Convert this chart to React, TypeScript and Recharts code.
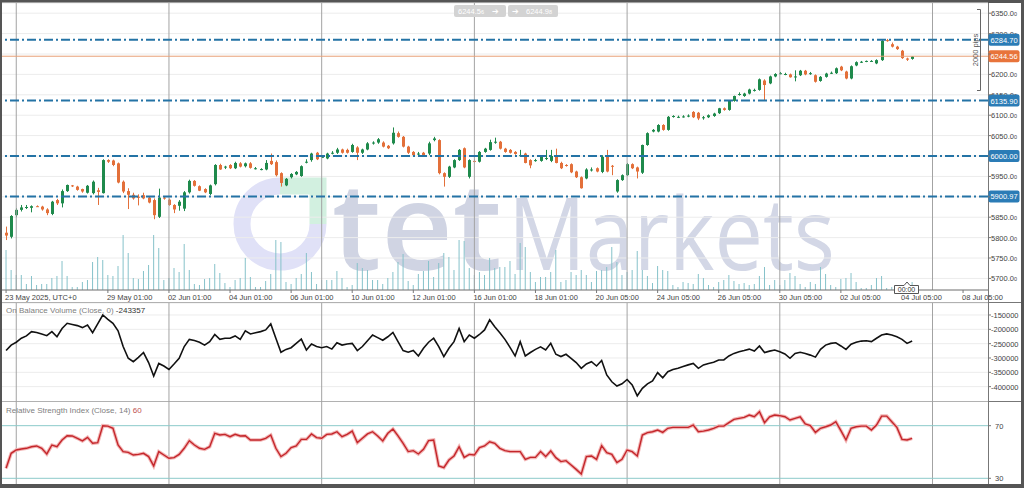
import React from "react";
import { ComposedChart, Bar, Line, XAxis, YAxis, CartesianGrid, ReferenceLine } from "recharts";

// US500, 4H candles 23 May - 03 Jul 2025 : [open, high, low, close]
const OHLC: [number, number, number, number][] = [
  [5812,5827,5794,5805],[5802,5855,5798,5853],[5855,5872,5850,5868],[5868,5880,5864,5874],[5874,5880,5870,5875],[5873,5879,5862,5877],[5877,5879,5875,5876],[5876,5878,5866,5869],[5869,5872,5855,5860],[5858,5890,5855,5888],
  [5892,5895,5880,5884],[5884,5918,5874,5914],[5914,5930,5912,5929],[5928,5929,5924,5926],[5925,5927,5915,5917],[5919,5920,5910,5913],[5910,5929,5908,5927],[5909,5940,5906,5937],[5916,5922,5880,5912],[5909,5992,5908,5990],
  [5990,5992,5983,5986],[5989,5991,5975,5978],[5982,5984,5933,5935],[5937,5940,5909,5913],[5914,5921,5870,5905],[5905,5910,5893,5896],[5900,5906,5879,5899],[5904,5910,5894,5896],[5898,5902,5884,5886],[5892,5896,5845,5855],
  [5851,5920,5848,5898],[5898,5902,5893,5897],[5893,5896,5878,5880],[5880,5882,5860,5869],[5878,5892,5866,5888],[5871,5914,5865,5911],[5911,5942,5908,5939],[5939,5941,5925,5927],[5926,5928,5914,5915],[5919,5921,5909,5911],
  [5907,5930,5904,5928],[5931,5980,5928,5978],[5978,5981,5966,5967],[5972,5976,5968,5974],[5978,5980,5968,5970],[5970,5986,5968,5983],[5982,5985,5972,5974],[5975,5984,5972,5982],[5982,5985,5969,5971],[5970,5973,5967,5970],
  [5967,5970,5965,5968],[5967,5990,5965,5983],[5988,6006,5978,5980],[5985,5989,5950,5953],[5958,5960,5925,5934],[5928,5946,5926,5944],[5948,5958,5945,5956],[5955,5963,5953,5961],[5951,5977,5949,5975],[5985,5992,5982,5986],
  [5990,6008,5986,6006],[6008,6010,5990,5992],[5998,6002,5995,5998],[5994,6008,5992,6006],[6008,6012,6004,6008],[6008,6020,6005,6016],[6016,6018,6006,6008],[6015,6018,6006,6008],[6010,6030,6008,6027],[6021,6024,5990,6008],
  [6008,6018,6005,6016],[6016,6034,6014,6031],[6033,6036,6028,6033],[6033,6044,6030,6041],[6033,6036,6021,6023],[6025,6027,6017,6019],[6031,6070,6028,6057],[6056,6060,6045,6047],[6047,6049,6021,6023],[6023,6025,6005,6008],
  [6010,6012,6000,6002],[6006,6010,5998,6006],[6008,6010,5998,6000],[6006,6035,6002,6031],[6039,6047,6036,6043],[6039,6041,5955,5958],[5958,5960,5925,5949],[5949,5976,5946,5974],[5972,5992,5970,5990],[5990,6017,5988,6015],
  [6019,6021,5970,5972],[5949,5992,5945,5990],[5988,5992,5984,5986],[5986,6012,5984,6010],[6010,6020,6008,6018],[6015,6040,6013,6034],[6035,6045,6030,6035],[6035,6037,6016,6018],[6018,6020,6008,6010],[6015,6017,6006,6008],
  [6010,6012,6003,6005],[6002,6015,5998,6002],[6006,6008,5982,5983],[5990,5992,5970,5977],[5990,5993,5986,5990],[5988,6002,5986,6000],[5995,6015,5990,5995],[5988,6015,5985,6000],[6000,6018,5982,5983],[5983,5986,5968,5970],
  [5978,5980,5974,5976],[5980,5982,5958,5960],[5962,5964,5946,5948],[5948,5950,5920,5921],[5945,5970,5943,5967],[5967,5972,5962,5967],[5970,5972,5960,5962],[5961,6002,5958,5998],[5998,6015,5960,5962],[5976,5978,5953,5974],
  [5913,5943,5910,5941],[5941,5955,5939,5953],[5953,5983,5951,5980],[5980,5982,5968,5970],[5972,5974,5945,5962],[5959,6028,5956,6027],[6027,6058,6025,6056],[6060,6066,6058,6064],[6060,6078,6058,6076],[6076,6078,6062,6064],
  [6064,6098,6062,6096],[6097,6100,6094,6098],[6096,6099,6093,6096],[6097,6100,6094,6097],[6099,6102,6095,6099],[6108,6110,6093,6095],[6106,6108,6088,6092],[6095,6098,6089,6095],[6095,6102,6093,6100],[6098,6106,6096,6104],
  [6105,6118,6103,6117],[6117,6119,6111,6113],[6113,6137,6111,6135],[6135,6148,6133,6147],[6152,6156,6148,6152],[6147,6155,6145,6153],[6153,6165,6151,6163],[6162,6165,6158,6162],[6162,6190,6160,6188],[6185,6188,6135,6174],
  [6178,6197,6176,6195],[6195,6203,6193,6201],[6203,6206,6200,6203],[6201,6204,6198,6201],[6200,6202,6192,6193],[6195,6210,6183,6195],[6198,6211,6196,6209],[6209,6211,6198,6200],[6203,6206,6199,6203],[6198,6200,6180,6182],
  [6184,6196,6182,6194],[6194,6204,6192,6202],[6204,6207,6201,6204],[6203,6217,6201,6215],[6219,6221,6208,6210],[6207,6209,6188,6190],[6190,6222,6188,6220],[6222,6232,6220,6230],[6231,6233,6228,6231],[6232,6234,6230,6233],
  [6233,6235,6231,6233],[6227,6237,6225,6235],[6235,6285,6233,6282],[6284,6287,6280,6283],[6274,6278,6266,6268],[6268,6270,6260,6262],[6258,6260,6238,6240],[6239,6241,6233,6236],[6238,6245,6236,6244],
];

// tick volume per candle (thousands)
const VOLUME = [
  40,20,15,15,6,14,5,6,6,12, 14,29,14,3,3,8,10,28,33,30, 15,14,24,55,37,12,11,19,25,55,
  42,10,12,22,18,46,20,6,5,11, 12,26,17,7,3,10,12,32,13,3, 3,9,16,50,48,8,6,12,16,37,
  18,6,10,10,10,19,12,3,5,27, 22,20,10,10,6,12,18,28,36,9, 5,16,19,29,13,27,37,33,20,50,
  49,22,15,18,15,32,22,23,23,29, 16,47,43,18,8,13,13,18,40,8, 10,18,15,20,15,8,19,20,23,43,
  28,15,18,20,39,20,14,7,24,20, 19,5,3,8,7,6,16,12,5,3, 8,10,15,9,6,7,5,6,14,23,
  5,10,5,10,17,14,6,3,8,6, 23,16,5,3,11,12,17,8,2,2, 5,12,14,2,3,5,3,8,8,
];

// On Balance Volume (thousands)
const OBV = [
  -274,-255,-245,-231,-223,-208,-211,-216,-222,-208, -226,-197,-179,-183,-187,-194,-185,-212,-181,-150,
  -165,-179,-205,-260,-301,-313,-298,-281,-316,-363, -319,-328,-340,-321,-301,-260,-235,-239,-245,-255,
  -243,-218,-235,-231,-231,-223,-235,-205,-216,-212, -208,-202,-181,-231,-280,-270,-264,-249,-234,-272,
  -251,-260,-264,-260,-269,-247,-255,-251,-249,-274, -260,-240,-220,-229,-238,-226,-211,-243,-274,-280,
  -274,-293,-266,-245,-231,-260,-295,-266,-243,-197, -243,-220,-231,-218,-202,-167,-191,-212,-235,-263,
  -293,-243,-293,-281,-270,-261,-272,-249,-287,-295, -287,-301,-316,-336,-321,-313,-328,-309,-359,-383,
  -398,-390,-375,-394,-432,-406,-390,-380,-351,-369, -348,-340,-336,-330,-324,-319,-336,-324,-319,-315,
  -307,-307,-293,-284,-278,-274,-269,-276,-258,-281, -276,-272,-278,-286,-301,-284,-280,-284,-290,-297,
  -270,-255,-249,-247,-258,-270,-252,-245,-241,-240, -243,-231,-220,-216,-220,-226,-235,-249,-241,
];

// RSI(14)
const RSI = [
  37.6,49.0,51.5,52.3,52.8,54.0,54.6,52.8,48.5,55.3, 54.0,59.1,62.4,62.2,60.4,58.4,61.1,56.6,57.1,70.0,
  69.7,68.0,55.3,50.3,49.7,47.7,48.2,49.0,46.5,39.4, 50.3,47.7,45.2,45.7,48.2,52.8,58.6,55.3,52.8,52.0,
  54.0,64.2,62.9,63.4,61.6,63.4,62.2,62.4,59.1,59.1, 59.1,60.4,62.9,52.8,46.5,49.0,53.3,54.6,59.6,59.6,
  63.7,60.9,60.4,63.4,63.7,65.4,61.6,63.4,65.9,57.1, 60.4,63.7,65.4,62.2,58.4,64.2,67.5,62.2,56.6,50.3,
  51.0,48.5,52.0,58.6,59.1,39.4,38.1,43.9,47.0,54.0, 45.9,48.2,47.7,53.3,54.6,57.8,56.6,52.8,51.0,50.3,
  50.3,50.3,44.4,45.9,45.9,50.3,46.5,50.8,45.7,42.7, 43.4,40.1,36.8,33.3,46.5,47.0,44.4,54.8,49.5,48.2,
  41.9,44.4,51.5,50.3,47.0,62.9,64.7,65.4,66.7,64.9, 68.0,68.7,68.7,68.7,68.7,70.5,65.4,65.9,66.7,68.0,
  69.7,69.7,72.3,74.8,75.6,76.3,78.1,76.8,80.6,72.3, 76.8,78.1,77.6,76.8,74.3,75.6,76.8,71.3,70.0,64.9,
  68.0,69.2,70.5,73.0,66.2,59.1,68.0,69.2,69.7,69.7, 66.7,70.5,77.3,77.3,73.0,68.7,59.6,59.1,60.4,
];

const TIME_TICKS = [0, 20, 32, 44, 56, 68, 80, 92, 104, 116, 128, 140, 152, 164, 176, 188];
const TIME_LABELS = [
  "23 May 2025, UTC+0", "29 May 01:00", "02 Jun 01:00", "04 Jun 01:00", "06 Jun 01:00", "10 Jun 01:00",
  "12 Jun 01:00", "16 Jun 01:00", "18 Jun 01:00", "20 Jun 05:00", "24 Jun 05:00", "26 Jun 05:00",
  "30 Jun 05:00", "02 Jul 05:00", "04 Jul 05:00", "08 Jul 05:00",
];
const PRICE_TICKS = [5700, 5750, 5800, 5850, 5900, 5950, 6000, 6050, 6100, 6150, 6200, 6250, 6300, 6350];
const OBV_TICKS = [-150000, -200000, -250000, -300000, -350000, -400000];
const RSI_LEVELS = [30, 70];
const LEVELS = [6284.7, 6135.9, 6000, 5900.97];
const LAST_PRICE = 6244.56;
const SESSION_LINES = [2, 32, 62, 92, 122, 152, 182];
const GRID_STEPS = Array.from({ length: 49 }, (_, k) => k * 4);

const X_DOMAIN: [number, number] = [-0.8, 192.9];
const PRICE_DOMAIN: [number, number] = [5671.6, 6375];
const OBV_DOMAIN: [number, number] = [-453560, -108130];
const RSI_DOMAIN: [number, number] = [25.67, 88];

const FONT = '"Liberation Sans", Arial, sans-serif';
const UP = "#1f8a4c";
const DOWN = "#e3703a";
const LEVEL = "#2473a5";

const rows = OHLC.map(([o, h, l, c], i) => ({
  i, o, h, l, c, range: [l, h], vol: VOLUME[i], obv: OBV[i] * 1000, rsi: RSI[i],
}));

const gridX = (p: any) =>
  p && p.xAxis && typeof p.xAxis.scale === "function" ? GRID_STEPS.map((v) => p.xAxis.scale(v)) : [];

function Candle(props: any) {
  const { x, y, width, height, payload } = props;
  if (!payload) return null;
  const { o, h, l, c } = payload;
  const top = Math.min(y, y + height);
  const H = Math.abs(height);
  const py = (v: number) => top + ((h - v) / (h - l)) * H;
  const cx = Math.round(x + width / 2) + 0.5;
  const color = c >= o ? UP : DOWN;
  const b1 = py(Math.max(o, c));
  const b2 = py(Math.min(o, c));
  return (
    <g>
      <line x1={cx} x2={cx} y1={top} y2={top + H} stroke={color} strokeWidth={1} />
      <rect x={cx - 1.5} y={b1} width={3} height={Math.max(1, b2 - b1)} fill={color} />
    </g>
  );
}

function TimeTick({ x, y, payload }: any) {
  const k = TIME_TICKS.indexOf(payload.value);
  return (
    <text x={x - 1} y={y + 7} fontSize={7.5} fill="#444" fontFamily={FONT}>
      {TIME_LABELS[k]}
    </text>
  );
}

// price label; the part a level tag would cover is left out, as the tag hides it on the terminal
function PriceTick({ x, y, payload }: any) {
  const v = Number(payload.value);
  const s = v.toFixed(2);
  const tags = [...LEVELS, LAST_PRICE];
  const near = tags.map((t) => Math.abs(t - v)).reduce((a, b) => Math.min(a, b), Infinity);
  if (near < 12) return null;
  const clipId = `pclip-${v}`;
  const partial = near < 17;
  return (
    <g>
      {partial && (
        <defs>
          <clipPath id={clipId}>
            <rect x={x} y={y - 6} width={30} height={6.3} />
          </clipPath>
        </defs>
      )}
      <text x={x} y={y + 3} fontSize={7.5} fill="#444" fontFamily={FONT} clipPath={partial ? `url(#${clipId})` : undefined}>
        <tspan>{s.slice(0, -1)}</tspan>
        <tspan fontSize={5.5}>{s.slice(-1)}</tspan>
      </text>
    </g>
  );
}

function SideTick({ x, y, payload }: any) {
  return (
    <text x={x} y={y + 3} fontSize={7.5} fill="#444" fontFamily={FONT}>
      {payload.value}
    </text>
  );
}

function PriceTag({ viewBox, text, color }: any) {
  if (!viewBox) return null;
  const x = viewBox.x + viewBox.width;
  const y = viewBox.y;
  return (
    <g>
      <rect x={x + 0.5} y={y - 6} width={31} height={12} rx={2} fill={color} />
      <text x={x + 16} y={y + 3} textAnchor="middle" fontSize={7.5} fill="#fff" fontFamily={FONT}>
        {text}
      </text>
    </g>
  );
}

export default function App() {
  return (
    <div style={{ position: "absolute", left: 0, top: 0, width: 1024, height: 488, background: "#555", overflow: "hidden", fontFamily: FONT }}>
      <div style={{ position: "absolute", left: 2, top: 3, width: 1019, height: 481, background: "#fff" }} />

      {/* watermark + panel frame */}
      <svg width={1024} height={488} style={{ position: "absolute", left: 0, top: 0 }}>
        <path d="M 280 186 A 38 38 0 1 0 318 224" fill="none" stroke="#e0e1f7" strokeWidth={17} />
        <path d="M 280 186 H 318 V 224" fill="none" stroke="#d2f0e0" strokeWidth={17} />
        <text x={332} y={270} fontSize={122} fontWeight={600} fill="#d0d4e3" fontFamily="Open Sans" textLength={170} lengthAdjust="spacingAndGlyphs">tet</text>
        <text x={508} y={270} fontSize={100} fill="#d3d7e6" fontFamily="Open Sans" textLength={327} lengthAdjust="spacingAndGlyphs">Markets</text>
        <line x1={2} x2={1021} y1={302.5} y2={302.5} stroke="#777" />
        <line x1={2} x2={1021} y1={401.5} y2={401.5} stroke="#777" />
        <line x1={988.5} x2={988.5} y1={3} y2={484} stroke="#777" />
      </svg>

      {/* price panel */}
      <div style={{ position: "absolute", left: 0, top: 0 }}>
        <ComposedChart width={1020} height={303} data={rows} margin={{ top: 3, right: 0, bottom: 0, left: 2 }}>
          <CartesianGrid stroke="#ececec" verticalCoordinatesGenerator={gridX} />
          <XAxis dataKey="i" type="number" domain={X_DOMAIN} allowDataOverflow ticks={TIME_TICKS} interval={0}
            tick={<TimeTick />} tickSize={3} tickMargin={0} height={13} axisLine={{ stroke: "#777" }} tickLine={{ stroke: "#777" }} />
          <XAxis xAxisId="v" dataKey="i" type="number" domain={X_DOMAIN} allowDataOverflow hide />
          <YAxis orientation="right" domain={PRICE_DOMAIN} allowDataOverflow ticks={PRICE_TICKS} interval={0}
            tick={<PriceTick />} tickSize={3} tickMargin={0} width={32} axisLine={false} tickLine={{ stroke: "#777" }} />
          <YAxis yAxisId="v" domain={[0, 287]} allowDataOverflow hide />
          {SESSION_LINES.map((v) => (
            <ReferenceLine key={v} x={v} stroke="#a3a3a3" />
          ))}
          <Bar xAxisId="v" yAxisId="v" dataKey="vol" barSize={1} fill="#86c2ca" isAnimationActive={false} />
          <Bar dataKey="range" barSize={3} shape={(p: any) => <Candle {...p} />} isAnimationActive={false} />
          <ReferenceLine y={LAST_PRICE} stroke="#e8a077" label={<PriceTag text="6244.56" color="#e8743b" />} />
          {LEVELS.map((v) => (
            <ReferenceLine key={v} y={v} stroke={LEVEL} strokeWidth={2} strokeDasharray="9 3 2 3"
              label={<PriceTag text={v.toFixed(2)} color="#2b7cb6" />} />
          ))}
        </ComposedChart>
      </div>

      {/* OBV panel */}
      <div style={{ position: "absolute", left: 0, top: 302 }}>
        <ComposedChart width={1020} height={100} data={rows} margin={{ top: 1, right: 0, bottom: 0, left: 2 }}>
          <CartesianGrid stroke="#ececec" verticalCoordinatesGenerator={gridX} />
          <XAxis dataKey="i" type="number" domain={X_DOMAIN} allowDataOverflow hide />
          <YAxis orientation="right" domain={OBV_DOMAIN} allowDataOverflow ticks={OBV_TICKS} interval={0}
            tick={<SideTick />} tickSize={3} tickMargin={0} width={32} axisLine={false} tickLine={{ stroke: "#777" }} />
          {SESSION_LINES.map((v) => (
            <ReferenceLine key={v} x={v} stroke="#a3a3a3" />
          ))}
          <Line dataKey="obv" stroke="#111" strokeWidth={1.6} dot={false} isAnimationActive={false} />
        </ComposedChart>
      </div>

      {/* RSI panel */}
      <div style={{ position: "absolute", left: 0, top: 402 }}>
        <ComposedChart width={1020} height={82} data={rows} margin={{ top: 0, right: 0, bottom: 0, left: 2 }}>
          <CartesianGrid stroke="#ececec" horizontal={false} verticalCoordinatesGenerator={gridX} />
          <XAxis dataKey="i" type="number" domain={X_DOMAIN} allowDataOverflow hide />
          <YAxis orientation="right" domain={RSI_DOMAIN} allowDataOverflow ticks={RSI_LEVELS} interval={0}
            tick={<SideTick />} tickSize={3} tickMargin={4} width={32} axisLine={false} tickLine={{ stroke: "#777" }} />
          {SESSION_LINES.map((v) => (
            <ReferenceLine key={v} x={v} stroke="#a3a3a3" />
          ))}
          {RSI_LEVELS.map((v) => (
            <ReferenceLine key={v} y={v} stroke="#8ccaca" />
          ))}
          <Line dataKey="rsi" stroke="#f2b6b6" strokeWidth={3.5} dot={false} isAnimationActive={false} />
          <Line dataKey="rsi" stroke="#c4262b" strokeWidth={1.4} dot={false} isAnimationActive={false} />
        </ComposedChart>
      </div>

      {/* terminal chrome: titles, quote buttons, measure, time marker */}
      <svg width={1024} height={488} style={{ position: "absolute", left: 0, top: 0, pointerEvents: "none" }} fontFamily={FONT}>
        <text x={6} y={313} fontSize={8} fill="#808080">
          On Balance Volume (Close, 0) <tspan fill="#333">-243357</tspan>
        </text>
        <text x={6} y={413} fontSize={8} fill="#808080">
          Relative Strength Index (Close, 14) <tspan fill="#c0504d">60</tspan>
        </text>
        <rect x={454} y={5} width={52} height={12} rx={2} fill="#d3d3d3" />
        <text x={458} y={14} fontSize={7.5} fill="#fff">6244.5<tspan fontSize={5.5}>6</tspan> <tspan dx={6}>➔</tspan></text>
        <rect x={508} y={5} width={50} height={12} rx={2} fill="#d3d3d3" />
        <text x={512} y={14} fontSize={7.5} fill="#fff">➔<tspan dx={7}>6244.9</tspan><tspan fontSize={5.5}>8</tspan></text>
        <path d="M 977 9.5 H 980.5 V 90.5 H 977" fill="none" stroke="#666" />
        <text transform="translate(978 50) rotate(-90)" textAnchor="middle" fontSize={7.5} fill="#555">2000 pips</text>
        <path d="M 894.5 293.5 V 285.5 H 904 L 907 282 L 910 285.5 H 918.5 V 293.5 Z" fill="#fff" stroke="#555" />
        <text x={906.5} y={292} textAnchor="middle" fontSize={7} fill="#333">00:00</text>
      </svg>
    </div>
  );
}
